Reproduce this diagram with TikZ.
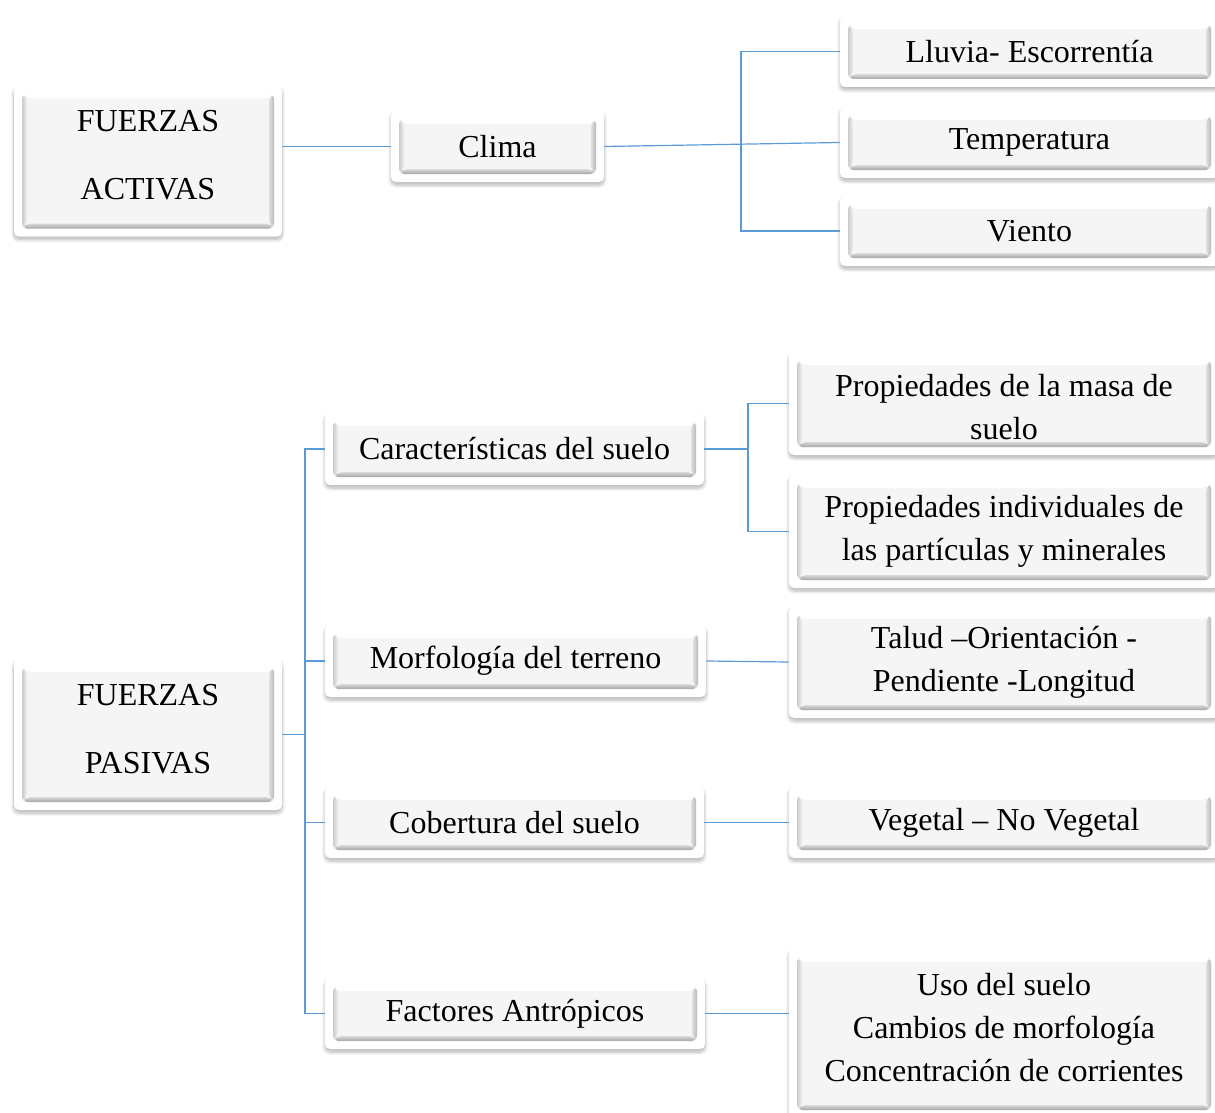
\documentclass[tikz,border=0pt]{standalone}
\usepackage{fontspec}
\setmainfont{Liberation Serif}
\usepackage{tikz}
\usetikzlibrary{calc,shadows.blur}
\definecolor{LineaAzul}{HTML}{5B9BD5}
\definecolor{FondoBoton}{HTML}{F5F5F5}

\tikzset{
  boton/.style={rectangle, rounded corners=2.5pt, fill=white, inner sep=0pt,
                align=center, font=\fontsize{16}{21.5}\selectfont,
                blur shadow={shadow blur steps=8, shadow xshift=0pt,
                             shadow yshift=-1.5pt, shadow opacity=30},
                path picture={
                  \path (path picture bounding box.south west) ++(4pt,4pt) coordinate (bA);
                  \path (path picture bounding box.north east) ++(-4pt,-4pt) coordinate (bC);
                  \coordinate (bB) at (bC |- bA);
                  \coordinate (bD) at (bA |- bC);
                  \fill[FondoBoton] (bA) rectangle (bC);
                  \shade[top color=gray!30, bottom color=gray!70]
                    (bA) -- (bB) -- ++(-2.5pt,2.5pt) -- ($(bA)+(2.5pt,2.5pt)$) -- cycle;
                  \shade[left color=gray!25, right color=gray!55]
                    (bB) -- (bC) -- ++(-2.5pt,-2.5pt) -- ($(bB)+(-2.5pt,2.5pt)$) -- cycle;
                  \fill[white] (bC) -- (bD) -- ++(2.5pt,-2.5pt) -- ($(bC)+(-2.5pt,-2.5pt)$) -- cycle;
                  \shade[left color=gray!40, right color=gray!12]
                    (bD) -- (bA) -- ++(2.5pt,2.5pt) -- ($(bD)+(2.5pt,-2.5pt)$) -- cycle;
                }},
  enlace/.style={draw=LineaAzul, line width=0.6pt}
}

\begin{document}
\begin{tikzpicture}[x=0.5pt, y=-0.5pt]
\useasboundingbox (0,0) rectangle (1215,1113);

% fuerzas activas
\node[boton, minimum width=134pt, minimum height=75.5pt, text depth=6pt] (fa) at (148,161)
  {FUERZAS\\[12.5pt]ACTIVAS};
\node[boton, minimum width=106.5pt, minimum height=35.5pt] (clima) at (497.5,146.5) {Clima};
\node[boton, minimum width=189.5pt, minimum height=35.5pt] (lluvia) at (1029.5,51.5) {Lluvia- Escorrentía};
\node[boton, minimum width=189.5pt, minimum height=35.5pt] (temp) at (1029.5,142.5) {Temperatura};
\node[boton, minimum width=189.5pt, minimum height=35pt] (viento) at (1029.5,231) {Viento};

% fuerzas pasivas
\node[boton, minimum width=134pt, minimum height=75.5pt, text depth=6pt] (fp) at (148,734.5)
  {FUERZAS\\[12.5pt]PASIVAS};
\node[boton, minimum width=189.5pt, minimum height=36pt] (carac) at (514.5,449) {Características del suelo};
\node[boton, minimum width=190.5pt, minimum height=36pt] (morf) at (515.5,661) {Morfología del terreno};
\node[boton, minimum width=189.5pt, minimum height=35.5pt] (cober) at (514.5,822.5) {Cobertura del suelo};
\node[boton, minimum width=190pt, minimum height=35.5pt] (factor) at (515,1013.5) {Factores Antrópicos};

\node[boton, minimum width=215pt, minimum height=51.5pt, text height=36.5pt] (masa) at (1004,403.5)
  {Propiedades de la masa de\\suelo};
\node[boton, minimum width=215pt, minimum height=56.5pt] (indiv) at (1004,531.5)
  {Propiedades individuales de\\las partículas y minerales};
\node[boton, minimum width=215pt, minimum height=56pt] (talud) at (1004,662)
  {Talud –Orientación -\\Pendiente -Longitud};
\node[boton, minimum width=215pt, minimum height=35.5pt] (veget) at (1004,822.5) {Vegetal – No Vegetal};
\node[boton, minimum width=215pt, minimum height=84.5pt, text depth=6pt] (uso) at (1004,1033.5)
  {Uso del suelo\\Cambios de morfología\\Concentración de corrientes};

% puntos de quiebre
\coordinate (q1) at (741,0);
\coordinate (q2) at (305,0);
\coordinate (q3) at (748,0);

% conectores
\draw[enlace] (fa.east |- clima.west) -- (clima.west);
\draw[enlace] (clima.east) -- (temp.west);
\draw[enlace] (lluvia.west) -- (lluvia.west -| q1) -- (viento.west -| q1) -- (viento.west);

\draw[enlace] (fp.east) -- (fp.east -| q2);
\draw[enlace] (carac.west) -- (carac.west -| q2) -- (factor.west -| q2) -- (factor.west);
\draw[enlace] (morf.west -| q2) -- (morf.west);
\draw[enlace] (cober.west -| q2) -- (cober.west);

\draw[enlace] (carac.east) -- (carac.east -| q3);
\draw[enlace] (masa.west) -- (masa.west -| q3) -- (indiv.west -| q3) -- (indiv.west);
\draw[enlace] (morf.east) -- (talud.west);
\draw[enlace] (cober.east) -- (veget.west);
\draw[enlace] (factor.east) -- (factor.east -| uso.west);

\end{tikzpicture}
\end{document}
